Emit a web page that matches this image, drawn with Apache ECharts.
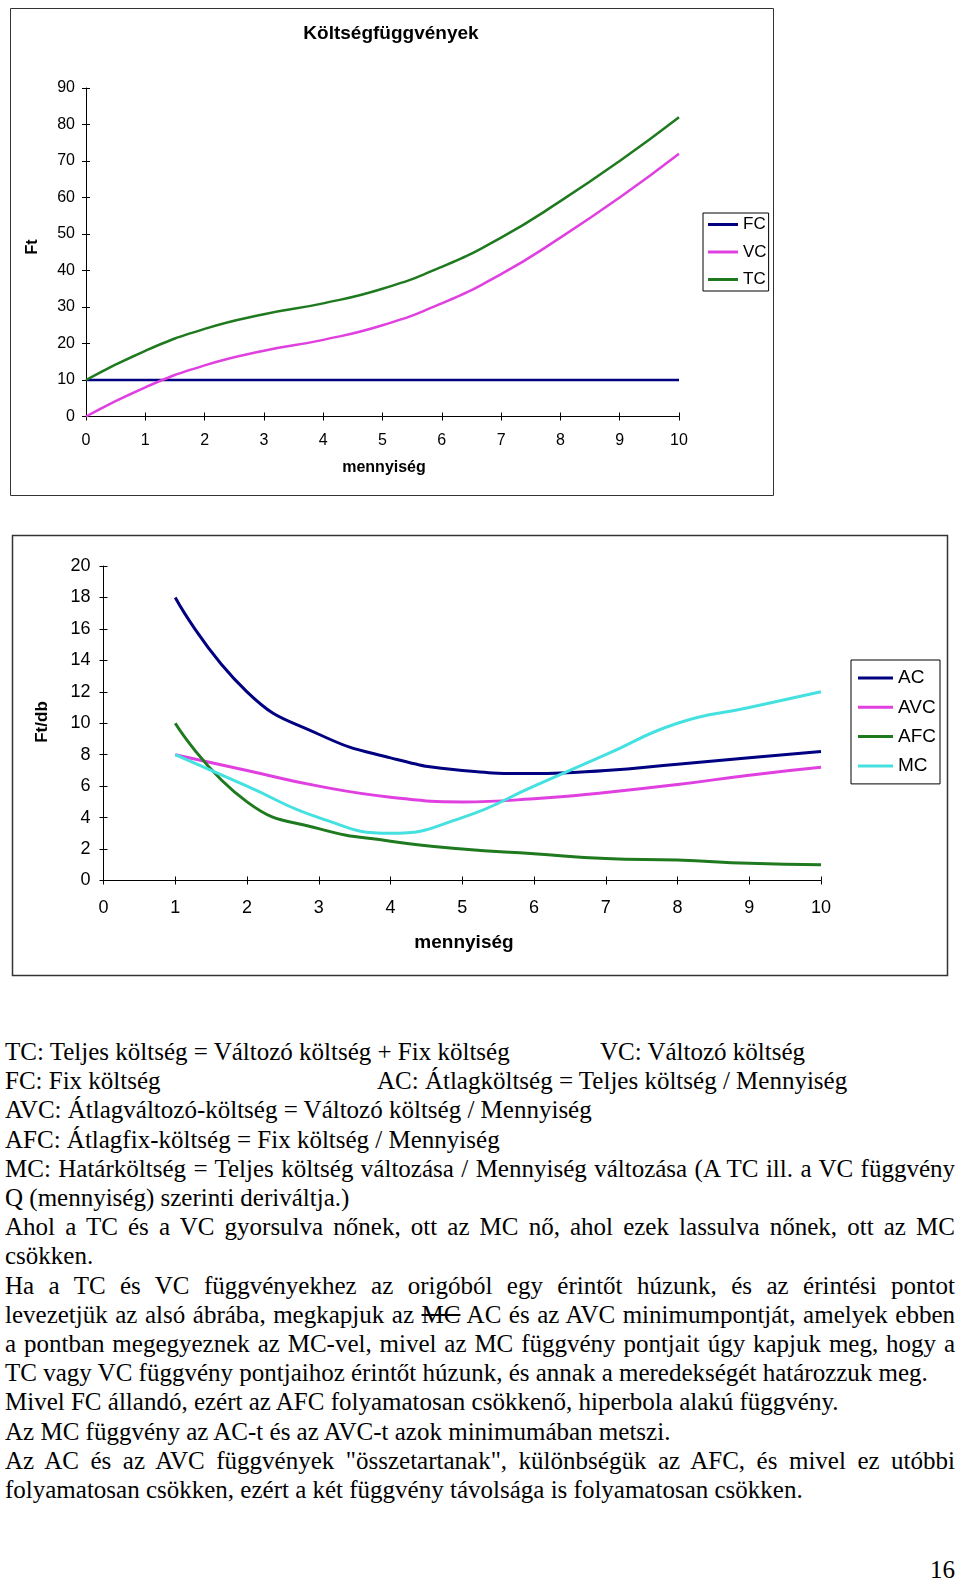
<!DOCTYPE html>
<html>
<head>
<meta charset="utf-8">
<script src="https://cdn.jsdelivr.net/npm/echarts@6/dist/echarts.min.js"></script>
<style>
html,body{margin:0;padding:0;background:#fff;width:960px;height:1581px;overflow:hidden;}
#chart{position:absolute;left:0;top:0;width:960px;height:1000px;}
.ln{position:absolute;left:5px;width:950px;font-family:'Liberation Serif','Times New Roman',serif;font-size:25px;line-height:29.2px;color:#000;white-space:nowrap;}
.j{text-align:justify;text-align-last:justify;white-space:normal;}
.ab{position:absolute;font-family:'Liberation Serif','Times New Roman',serif;font-size:25px;line-height:29.2px;color:#000;white-space:nowrap;}
</style>
</head>
<body>
<div id="chart"></div>

<div class="ln" style="top:1037px;">TC: Teljes költség = Változó költség + Fix költség</div>
<div class="ab" style="top:1037px;left:600px;">VC: Változó költség</div>
<div class="ln" style="top:1066.2px;">FC: Fix költség</div>
<div class="ab" style="top:1066.2px;left:377px;">AC: Átlagköltség = Teljes költség / Mennyiség</div>
<div class="ln" style="top:1095.4px;">AVC: Átlagváltozó-költség = Változó költség / Mennyiség</div>
<div class="ln" style="top:1124.6px;">AFC: Átlagfix-költség = Fix költség / Mennyiség</div>
<div class="ln j" style="top:1153.8px;">MC: Határköltség = Teljes költség változása / Mennyiség változása (A TC ill. a VC függvény</div>
<div class="ln" style="top:1183px;">Q (mennyiség) szerinti deriváltja.)</div>
<div class="ln j" style="top:1212.2px;">Ahol a TC és a VC gyorsulva nőnek, ott az MC nő, ahol ezek lassulva nőnek, ott az MC</div>
<div class="ln" style="top:1241.4px;">csökken.</div>
<div class="ln j" style="top:1270.6px;">Ha a TC és VC függvényekhez az origóból egy érintőt húzunk, és az érintési pontot</div>
<div class="ln j" style="top:1299.8px;">levezetjük az alsó ábrába, megkapjuk az <s>MC</s> AC és az AVC minimumpontját, amelyek ebben</div>
<div class="ln j" style="top:1329px;">a pontban megegyeznek az MC-vel, mivel az MC függvény pontjait úgy kapjuk meg, hogy a</div>
<div class="ln" style="top:1358.2px;">TC vagy VC függvény pontjaihoz érintőt húzunk, és annak a meredekségét határozzuk meg.</div>
<div class="ln" style="top:1387.4px;">Mivel FC állandó, ezért az AFC folyamatosan csökkenő, hiperbola alakú függvény.</div>
<div class="ln" style="top:1416.6px;">Az MC függvény az AC-t és az AVC-t azok minimumában metszi.</div>
<div class="ln j" style="top:1445.8px;">Az AC és az AVC függvények "összetartanak", különbségük az AFC, és mivel ez utóbbi</div>
<div class="ln" style="top:1475px;">folyamatosan csökken, ezért a két függvény távolsága is folyamatosan csökken.</div>
<div class="ab" style="top:1555px;right:5px;">16</div>

<script>
// ---- Chart 1: Költségfüggvények ----
const qTop   = [0, 1, 2, 3, 4, 5, 6, 7, 8, 9, 10];
const fcVals = [10, 10, 10, 10, 10, 10, 10, 10, 10, 10, 10];
const vcVals = [0, 8, 14, 18, 21, 25, 31, 39, 49, 60, 72];
const tcVals = [10, 18, 24, 28, 31, 35, 41, 49, 59, 70, 82];

// ---- Chart 2: átlag- és határköltség ----
const qBottom = [1, 2, 3, 4, 5, 6, 7, 8, 9, 10];
const acVals  = [18, 12, 9.3, 7.8, 7, 6.8, 7, 7.4, 7.8, 8.2];
const avcVals = [8, 7, 6, 5.3, 5, 5.2, 5.6, 6.1, 6.7, 7.2];
const afcVals = [10, 5, 3.3, 2.5, 2, 1.7, 1.4, 1.3, 1.1, 1];
const mcVals  = [8, 6, 4, 3, 4, 6, 8, 10, 11, 12];

const legendTop    = ['FC', 'VC', 'TC'];
const legendBottom = ['AC', 'AVC', 'AFC', 'MC'];

const cNavy = '#000080', cMag = '#e040e0', cGreen = '#1f7a1f', cCyan = '#45e0e0';

function pairs(xs, ys) { return xs.map((x, i) => [x, ys[i]]); }

const FONT = "'Liberation Sans', Arial, sans-serif";

function mkAxis(grid, min, max, interval, fs, margin, isMain) {
  return {
    gridIndex: grid, type: 'value', min: min, max: max, interval: interval,
    axisLine: { show: isMain, onZero: false, lineStyle: { color: '#000', width: 1 } },
    axisTick: { show: true, inside: !isMain, length: 4, lineStyle: { color: '#000', width: 1 } },
    axisLabel: { show: isMain, color: '#000', fontSize: fs, fontFamily: FONT, margin: margin },
    splitLine: { show: false }
  };
}

const chart = echarts.init(document.getElementById('chart'), null, { renderer: 'canvas' });

const xA0 = mkAxis(0, 0, 10, 1, 16, 16, true);  xA0.position = 'bottom';
const xA1 = mkAxis(0, 0, 10, 1, 16, 16, false); xA1.position = 'bottom';
const yA0 = mkAxis(0, 0, 90, 10, 16, 11, true); yA0.position = 'left';
const yA1 = mkAxis(0, 0, 90, 10, 16, 11, false); yA1.position = 'left';
const xB0 = mkAxis(1, 0, 10, 1, 18, 19, true);  xB0.position = 'bottom';
const xB1 = mkAxis(1, 0, 10, 1, 18, 19, false); xB1.position = 'bottom';
const yB0 = mkAxis(1, 0, 20, 2, 18, 13, true);  yB0.position = 'left';
const yB1 = mkAxis(1, 0, 20, 2, 18, 13, false); yB1.position = 'left';

function lineSeries(name, xs, ys, color, xi, yi, w, smooth) {
  return {
    name: name, type: 'line', data: pairs(xs, ys), xAxisIndex: xi, yAxisIndex: yi,
    showSymbol: false, symbol: 'none', smooth: smooth,
    lineStyle: { color: color, width: w }, itemStyle: { color: color },
    emphasis: { disabled: true }
  };
}

const option = {
  animation: false,
  textStyle: { fontFamily: FONT },
  grid: [
    { left: 86, top: 88, width: 593, height: 328.5, containLabel: false },
    { left: 103.5, top: 566, width: 717.5, height: 314.5, containLabel: false }
  ],
  xAxis: [xA0, xA1, xB0, xB1],
  yAxis: [yA0, yA1, yB0, yB1],
  legend: [
    {
      data: legendTop, orient: 'vertical', left: 703, top: 213,
      padding: [3, 2, 3, 5], itemWidth: 30, itemHeight: 3, itemGap: 10.5, icon: 'rect',
      borderColor: '#000', borderWidth: 1, backgroundColor: '#fff', selectedMode: false,
      textStyle: { fontSize: 17, color: '#000', lineHeight: 17, fontFamily: FONT }
    },
    {
      data: legendBottom, orient: 'vertical', left: 851, top: 660,
      padding: [8, 4, 8, 7], itemWidth: 35, itemHeight: 3, itemGap: 9.3, icon: 'rect',
      borderColor: '#000', borderWidth: 1, backgroundColor: '#fff', selectedMode: false,
      textStyle: { fontSize: 19, color: '#000', lineHeight: 20, fontFamily: FONT }
    }
  ],
  graphic: [
    { type: 'rect', shape: { x: 10.5, y: 8.5, width: 763, height: 487 }, style: { fill: 'none', stroke: '#333', lineWidth: 1 }, z: -1 },
    { type: 'rect', shape: { x: 12.5, y: 535.5, width: 935, height: 440 }, style: { fill: 'none', stroke: '#333', lineWidth: 1.5 }, z: -1 },
    { type: 'text', x: 391, y: 34, style: { text: 'Költségfüggvények', font: "bold 19px 'Liberation Sans', Arial, sans-serif", fill: '#000', align: 'center', verticalAlign: 'middle' } },
    { type: 'text', x: 384, y: 468, style: { text: 'mennyiség', font: "bold 16px 'Liberation Sans', Arial, sans-serif", fill: '#000', align: 'center', verticalAlign: 'middle' } },
    { type: 'text', x: 33, y: 247, rotation: Math.PI / 2, style: { text: 'Ft', font: "bold 16px 'Liberation Sans', Arial, sans-serif", fill: '#000', align: 'center', verticalAlign: 'middle' } },
    { type: 'text', x: 464, y: 943, style: { text: 'mennyiség', font: "bold 19px 'Liberation Sans', Arial, sans-serif", fill: '#000', align: 'center', verticalAlign: 'middle' } },
    { type: 'text', x: 42, y: 722, rotation: Math.PI / 2, style: { text: 'Ft/db', font: "bold 17px 'Liberation Sans', Arial, sans-serif", fill: '#000', align: 'center', verticalAlign: 'middle' } }
  ],
  series: [
    lineSeries('FC', qTop, fcVals, cNavy, 0, 0, 2.5, false),
    lineSeries('VC', qTop, vcVals, cMag, 0, 0, 2.5, 0.5),
    lineSeries('TC', qTop, tcVals, cGreen, 0, 0, 2.5, 0.5),
    lineSeries('AC', qBottom, acVals, cNavy, 2, 2, 3, 0.5),
    lineSeries('AVC', qBottom, avcVals, cMag, 2, 2, 3, 0.5),
    lineSeries('AFC', qBottom, afcVals, cGreen, 2, 2, 3, 0.5),
    lineSeries('MC', qBottom, mcVals, cCyan, 2, 2, 3, 0.5)
  ]
};
chart.setOption(option);
</script>
</body>
</html>
